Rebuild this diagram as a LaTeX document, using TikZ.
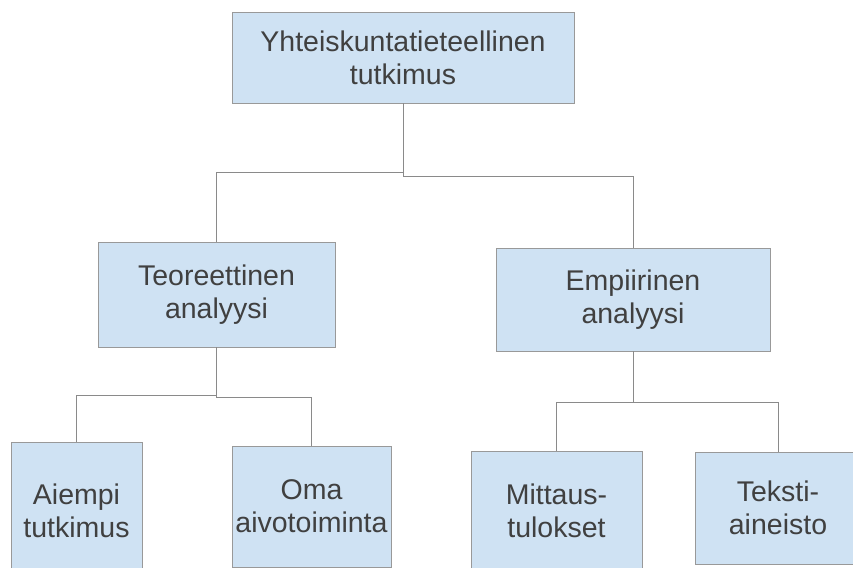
\documentclass[tikz,border=0pt]{standalone}
\usepackage{fontspec}
\setmainfont{Liberation Sans}

\definecolor{boxfill}{HTML}{CFE2F3}
\definecolor{boxline}{HTML}{999999}
\definecolor{wireline}{HTML}{8A8A8A}
\definecolor{boxtext}{HTML}{404040}

\tikzset{
  block/.style={draw=boxline, fill=boxfill, text=boxtext, align=center, inner sep=0pt,
    font=\fontsize{14.25}{16.5}\selectfont},
  wire/.style={draw=wireline, line width=0.5pt}
}

\begin{document}
\begin{tikzpicture}[x=0.5pt, y=-0.5pt]

    \useasboundingbox (0,0) rectangle (853,568);
    \clip (0,0) rectangle (853,568);

    % top level
    \node[block, minimum width=171pt, minimum height=45.5pt] (top) at (403,57.5) {Yhteiskuntatieteellinen\\tutkimus};

    % second level
    \node[block, minimum width=118.5pt, minimum height=52.5pt] (teor) at (216.5,294.5) {Teoreettinen\\analyysi};
    \node[block, minimum width=137pt, minimum height=51.5pt] (emp) at (633,299.5) {Empiirinen\\analyysi};

    % third level
    \node[block, minimum width=65.5pt, minimum height=69pt] (aiempi) at (76.5,511) {Aiempi\\tutkimus};
    \node[block, minimum width=79.5pt, minimum height=60.5pt] (oma) at (311.5,506.5) {Oma\\aivotoiminta};
    \node[block, minimum width=85.5pt, minimum height=60pt] (mitt) at (556.5,511) {Mittaus-\\tulokset};
    \node[block, minimum width=83pt, minimum height=56pt] (teksti) at (778,508) {Teksti-\\aineisto};

    \draw[wire] (top.south) -- ++(0,69) -| (teor.north);
    \draw[wire] (top.south) -- ++(0,73) -| (emp.north);

    \draw[wire] (teor.south) -- ++(0,48) -| (aiempi.north);
    \draw[wire] (teor.south) -- ++(0,50) -| (oma.north);

    \draw[wire] (emp.south) -- ++(0,51) -| (mitt.north);
    \draw[wire] (emp.south) -- ++(0,51) -| (teksti.north);

\end{tikzpicture}
\end{document}
